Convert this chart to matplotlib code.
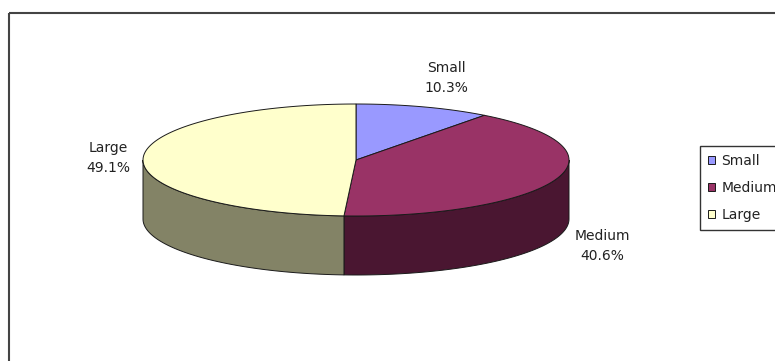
import numpy as np
import matplotlib
matplotlib.use('Agg')
import matplotlib.pyplot as plt
from matplotlib.patches import Polygon, Rectangle

# data
categories = ['Small', 'Medium', 'Large']
shares = [10.3, 40.6, 49.1]
top_colors = ['#9999FF', '#993366', '#FFFFCC']
side_colors = ['#4C4C80', '#4A1631', '#838366']

# layout (pixels)
cx, cy = 356, 160
rx, ry = 213, 56
depth = 59
label_pos = [(446, 78), (602, 246), (108, 158)]

fig = plt.figure(figsize=(7.75, 3.61), dpi=100)
ax = fig.add_axes([0, 0, 1, 1])
ax.set_xlim(0, 775)
ax.set_ylim(361, 0)
ax.axis('off')

# chart frame
ax.add_patch(Rectangle((9, 13), 800, 400, fill=False, ec='#444444', lw=1.5))

def pt(t, dy=0):
    return cx + rx * np.cos(np.radians(t)), cy - ry * np.sin(np.radians(t)) + dy

# slice angles, clockwise from 12 o'clock
bounds = 90 - np.concatenate([[0], np.cumsum(shares)]) / sum(shares) * 360
edge = '#1a1a1a'

# sides, only the front half (-180..0 deg) is visible
for i in range(len(shares)):
    t0, t1 = bounds[i], bounds[i + 1]
    for off in (0, -360):
        lo = max(t1, -180 + off)
        hi = min(t0, 0 + off)
        if hi <= lo:
            continue
        ts = np.linspace(hi, lo, 80)
        top = [pt(t) for t in ts]
        bot = [pt(t, depth) for t in ts[::-1]]
        ax.add_patch(Polygon(top + bot, closed=True, fc=side_colors[i], ec=edge, lw=0.7))

# tops
for i in range(len(shares)):
    t0, t1 = bounds[i], bounds[i + 1]
    ts = np.linspace(t0, t1, 120)
    verts = [(cx, cy)] + [pt(t) for t in ts]
    ax.add_patch(Polygon(verts, closed=True, fc=top_colors[i], ec=edge, lw=0.7,
                         label=categories[i]))

# labels
for i in range(len(shares)):
    ax.text(label_pos[i][0], label_pos[i][1], '%s\n%.1f%%' % (categories[i], shares[i]),
            ha='center', va='center', multialignment='center', fontsize=10,
            family='DejaVu Sans', color='#222222', linespacing=1.5)

leg = ax.legend(loc='lower left', bbox_to_anchor=(700 / 775, 1 - 230 / 361),
                borderaxespad=0, frameon=True, fancybox=False, shadow=False,
                handlelength=0.5, handleheight=0.5, handletextpad=0.45,
                labelspacing=0.92, borderpad=0.6,
                prop={'family': 'DejaVu Sans', 'size': 10})
leg.get_frame().set_edgecolor('black')
leg.get_frame().set_linewidth(1.0)
for t in leg.get_texts():
    t.set_color('#222222')

fig.savefig('out.png', dpi=100)
